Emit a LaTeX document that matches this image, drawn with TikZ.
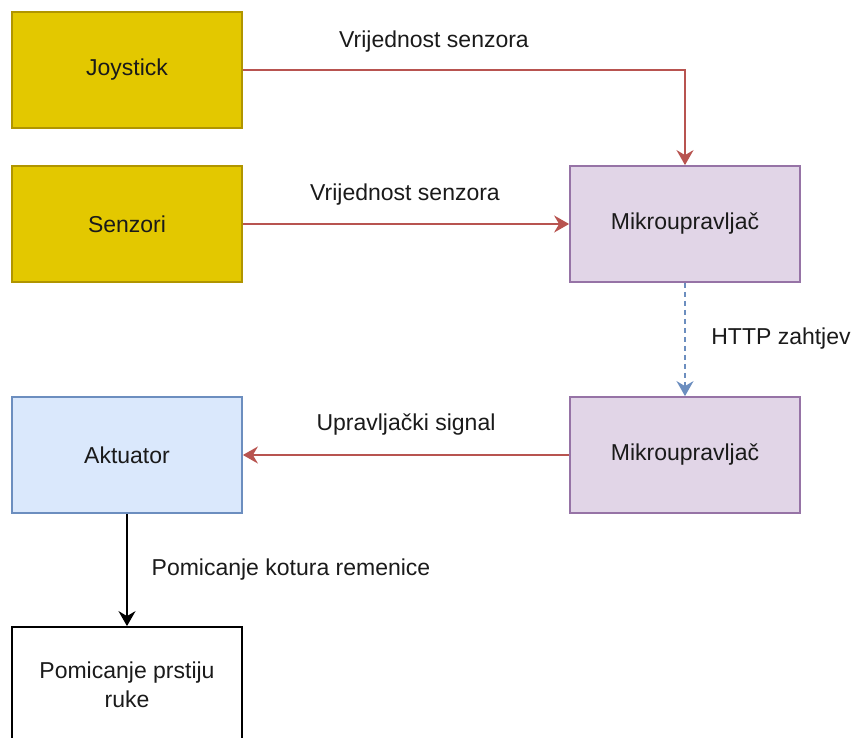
\documentclass[tikz,border=0pt]{standalone}
\usepackage{fontspec}
\setmainfont{Liberation Sans}
\usetikzlibrary{calc, arrows.meta}

\definecolor{yelfill}{HTML}{E3C800}
\definecolor{yeldraw}{HTML}{B09500}
\definecolor{purfill}{HTML}{E1D5E7}
\definecolor{purdraw}{HTML}{9673A6}
\definecolor{blufill}{HTML}{DAE8FC}
\definecolor{bludraw}{HTML}{6C8EBF}
\definecolor{redline}{HTML}{B85450}
\definecolor{txt}{HTML}{1A1A1A}

\tikzset{
    blok/.style={draw, line width=1.8pt, minimum width=230pt, minimum height=116pt,
        align=center, text=txt, font=\fontsize{23}{29}\selectfont},
    ulaz/.style={blok, fill=yelfill, draw=yeldraw},
    mikro/.style={blok, fill=purfill, draw=purdraw},
    akt/.style={blok, fill=blufill, draw=bludraw},
    strelica/.style={line width=1.8pt, -{Stealth[length=15pt,width=17pt,inset=5pt]}},
    oznaka/.style={text=txt, font=\fontsize{23}{28}\selectfont}
}

\begin{document}
\begin{tikzpicture}[x=1pt, y=-1pt]
    \useasboundingbox (0,0) rectangle (853,738);
    \node[ulaz] (joy) at (127,70) {Joystick};
    \node[ulaz] (senz) at (127,224) {Senzori};
    \node[mikro] (mik1) at (685,224) {Mikroupravljač};
    \node[mikro] (mik2) at (685,455) {Mikroupravljač};
    \node[akt] (akt) at (127,455) {Aktuator};
    \node[blok] (prst) at (127,685) {Pomicanje prstiju\\ruke};
        \draw[strelica, redline] (joy.east) -| (mik1.north);
        \draw[strelica, redline] (senz.east) -- (mik1.west);
        \draw[strelica, bludraw, dashed, dash pattern=on 5pt off 4pt] (mik1.south) -- (mik2.north);
        \draw[strelica, redline] (mik2.west) -- (akt.east);
        \draw[strelica, black] (akt.south) -- (prst.north);
    \node[oznaka] (l1) at (434,42) {Vrijednost senzora};
    \node[oznaka] (l2) at (405,195) {Vrijednost senzora};
    \node[oznaka] (l3) at (781,339) {HTTP zahtjev};
    \node[oznaka] (l4) at (406,425) {Upravljački signal};
    \node[oznaka] (l5) at (291,570) {Pomicanje kotura remenice};
\end{tikzpicture}
\end{document}
